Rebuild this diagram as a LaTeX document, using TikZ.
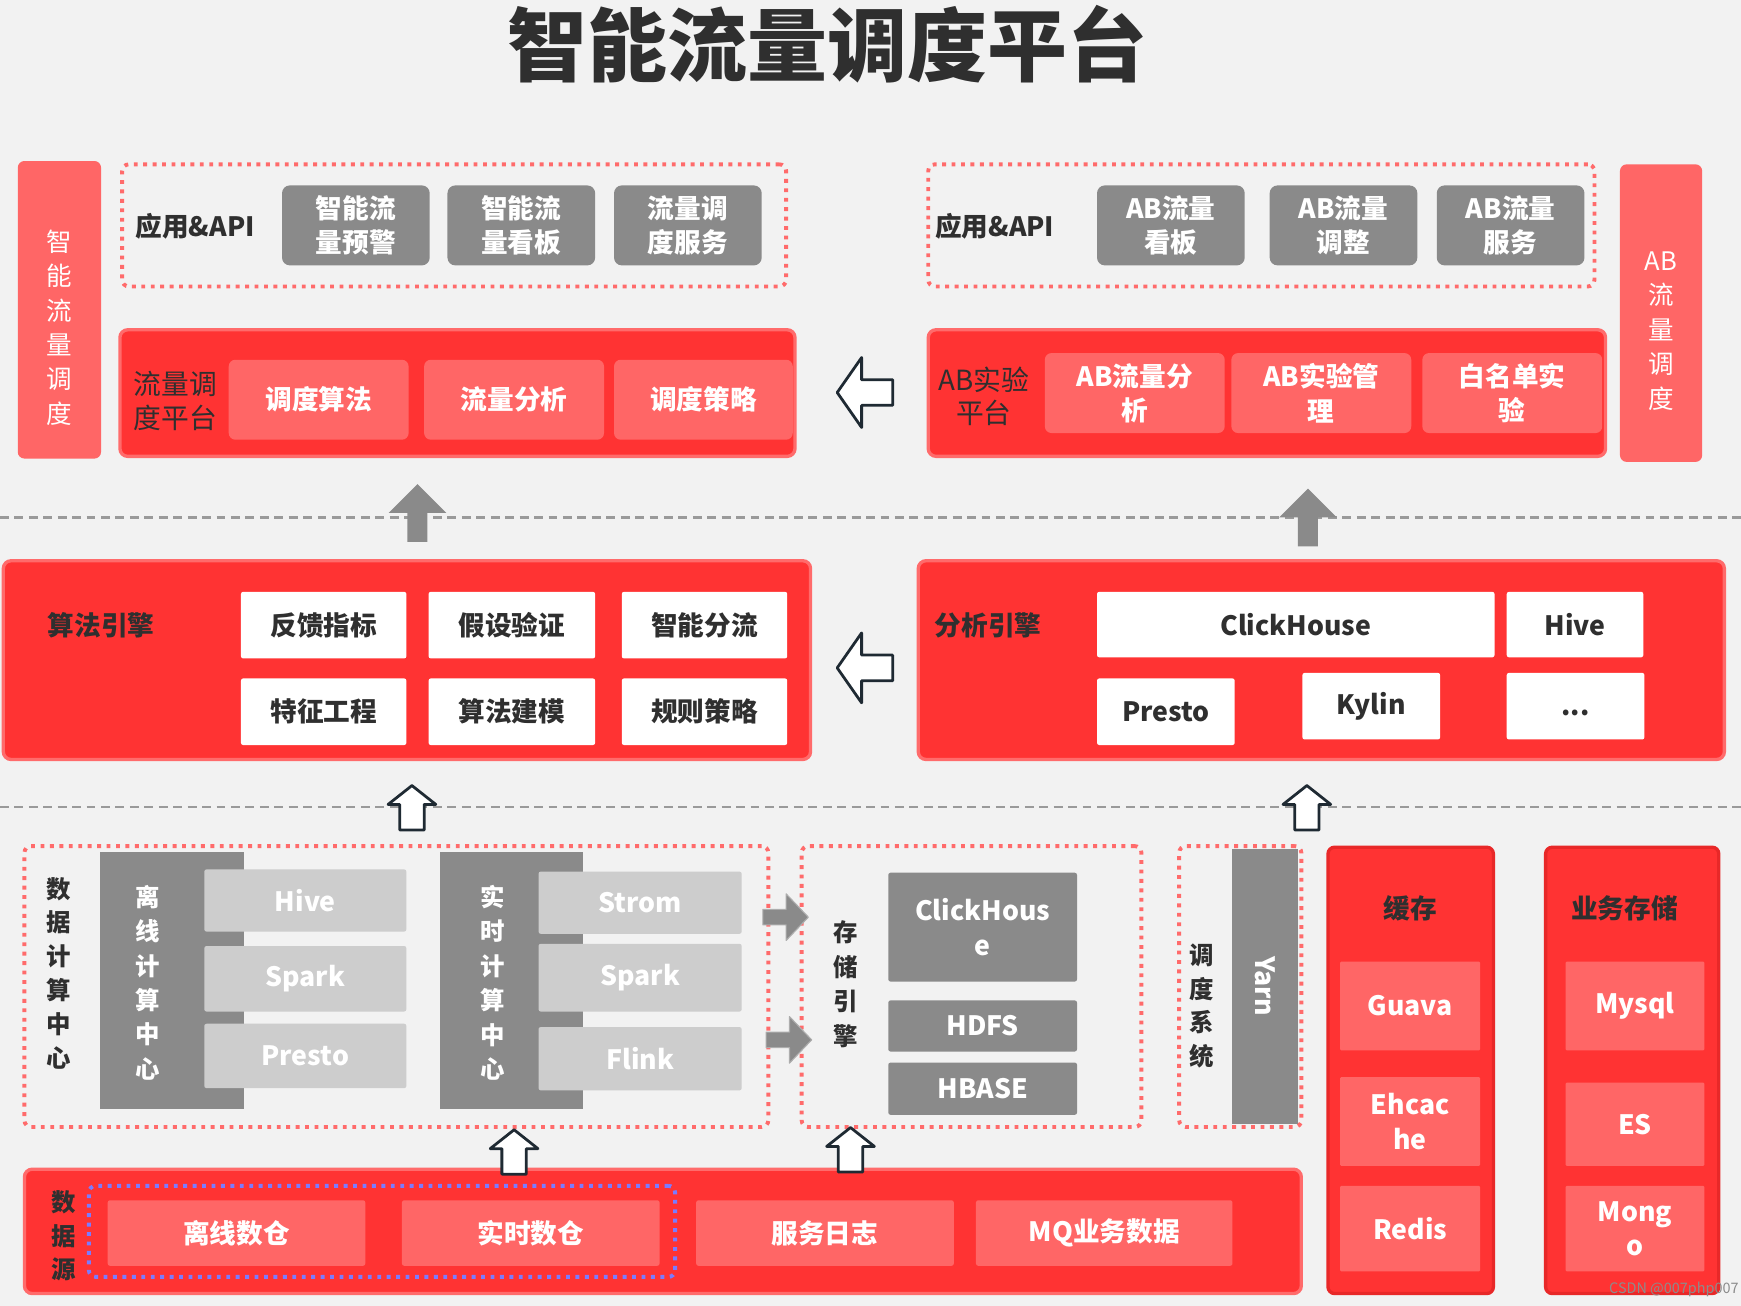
\documentclass[tikz,border=0pt]{standalone}
\usepackage{fontspec}
\setmainfont{Noto Sans CJK SC}
\definecolor{bgcol}{HTML}{F2F2F2}
\definecolor{redfill}{HTML}{FF3333}
\definecolor{redline}{HTML}{FF6B6B}
\definecolor{salmon}{HTML}{FF6666}
\definecolor{darkgray}{HTML}{8A8A8A}
\definecolor{lightgray}{HTML}{CDCDCD}
\definecolor{textdark}{HTML}{2F2F2F}
\definecolor{arrowline}{HTML}{1F2A33}
\definecolor{dotred}{HTML}{FF6B6B}
\definecolor{dotblue}{HTML}{7B7BFF}
\definecolor{boxred}{HTML}{E82828}
\definecolor{sepgray}{HTML}{9A9A9A}
\definecolor{markgray}{HTML}{8C8C8C}
\newcommand{\fsz}[2]{\fontsize{#1}{#2}\selectfont}
\tikzset{
  wh/.style 2 args={minimum width=#1pt, minimum height=#2pt},
  panel/.style={fill=redfill, draw=redline, line width=3pt, rounded corners=7pt, inner sep=0pt},
  storepanel/.style={fill=redfill, draw=boxred, line width=3pt, rounded corners=6pt, inner sep=0pt},
  dotbox/.style={draw=dotred, line width=3.5pt, dash pattern=on 3.5pt off 5pt, rounded corners=6pt, inner sep=0pt},
  blk/.style={inner sep=0pt, align=center, font=\bfseries\fsz{24}{31}},
  salbox/.style={blk, fill=salmon, text=white, rounded corners=6pt},
  graybox/.style={blk, fill=darkgray, text=white, rounded corners=7pt},
  whitebox/.style={blk, fill=white, text=textdark, rounded corners=2pt},
  lightbox/.style={blk, fill=lightgray, text=white, rounded corners=2pt},
  sidebar/.style={fill=salmon, rounded corners=6pt, inner sep=0pt},
  vtext/.style={align=center, inner sep=0pt, font=\fsz{23}{31}},
  tag/.style={text=textdark, inner sep=0pt, align=center, font=\bfseries\fsz{24}{30}},
  sepline/.style={draw=sepgray, line width=2pt, dash pattern=on 8pt off 5pt},
  outarrow/.style={fill=white, draw=arrowline, line width=2.5pt, line join=round},
  % 空心箭头（向左）
  leftarrow/.pic={\draw[outarrow] (25,-11.5) -- (-3,-11.5) -- (-3,-31.5) -- (-25,0) -- (-3,31.5) -- (-3,11.5) -- (25,11.5) -- cycle;},
  % 空心箭头（向上）
  uparrow/.pic={\draw[outarrow] (-11,20) -- (-11,-3) -- (-21.5,-3) -- (0,-20) -- (21.5,-3) -- (11,-3) -- (11,20) -- cycle;},
  % 灰色箭头（向上）
  grayup/.pic={\fill[darkgray] (-9,26) -- (-9,0) -- (-26,0) -- (0,-26) -- (26,0) -- (9,0) -- (9,26) -- cycle;},
  % 灰色箭头（向右）
  grayright/.pic={\filldraw[fill=darkgray, draw=darkgray!70, line width=1pt, line join=round] (-20.5,-7) -- (0.5,-7) -- (0.5,-21) -- (20.5,0) -- (0.5,21) -- (0.5,7) -- (-20.5,7) -- cycle;},
}

\begin{document}
\begin{tikzpicture}[x=1pt, y=-1pt]
  % 背景
  \fill[bgcol] (0,0) rectangle (1568,1176);
  \useasboundingbox (0,0) rectangle (1568,1176);
  % 标题
  \node[font=\bfseries\fsz{72}{80}, text=textdark, inner sep=0pt] (title) at (745,40) {智能流量调度平台};

  % 左右竖条
  \node[sidebar, wh={75}{268}] (leftbar) at (53.5,279) {};
  \node[vtext, text=white] (leftbartxt) at ([yshift=-16pt]leftbar.center) {智\\能\\流\\量\\调\\度};
  \node[sidebar, wh={74}{268}] (rightbar) at (1496,282) {};
  \node[vtext, text=white] (rightbartxt) at ([yshift=-16pt]rightbar.center) {AB\\流\\量\\调\\度};

  % 应用&API（左）
  \node[dotbox, wh={598}{110}] (appL) at (409,203) {};
  \node[tag, anchor=west] (appLtag) at (122,204) {应用\&API};
  \node[graybox, wh={133}{72}] (warn) at (320.5,203) {智能流\\量预警};
  \node[graybox, wh={133}{72}] (board) at (469.5,203) {智能流\\量看板};
  \node[graybox, wh={133}{72}] (service) at (619.5,203) {流量调\\度服务};

  % 应用&API（右）
  \node[dotbox, wh={600}{110}] (appR) at (1136,203) {};
  \node[tag, anchor=west] (appRtag) at (842,204) {应用\&API};
  \node[graybox, wh={133}{72}] (abboard) at (1054.5,203) {AB流量\\看板};
  \node[graybox, wh={133}{72}] (abadjust) at (1210,203) {AB流量\\调整};
  \node[graybox, wh={133}{72}] (abservice) at (1360.5,203) {AB流量\\服务};

  % 流量调度平台
  \node[panel, wh={608}{114}] (flowpanel) at (412,354) {};
  \node[tag, font=\fsz{25}{30}] (flowtag) at (158,361) {流量调\\度平台};
  \node[salbox, wh={162}{72}] (algo) at (287,360) {调度算法};
  \node[salbox, wh={162}{72}] (analysis) at (463,360) {流量分析};
  \node[salbox, wh={161}{72}] (strategy) at (633.5,360) {调度策略};

  % AB实验平台
  \node[panel, wh={610}{114}] (abpanel) at (1141,354) {};
  \node[tag, font=\fsz{25}{30}] (abtag) at (886,357) {AB实验\\平台};
  \node[salbox, wh={162}{72}] (abanalysis) at (1022,354) {AB流量分\\析};
  \node[salbox, wh={162}{72}] (abmanage) at (1190,354) {AB实验管\\理};
  \node[salbox, wh={162}{72}] (whitelist) at (1362,354) {白名单实\\验};

  % 分隔线
  \draw[sepline] (0,466) -- (1568,466);
  \draw[sepline] (0,727) -- (1568,727);

  % 算法引擎
  \node[panel, wh={727}{179}] (algopanel) at (366.5,594.5) {};
  \node[tag] (algotag) at (91,563) {算法引擎};
  \node[whitebox, wh={149}{60}] (feedback) at (291.5,563) {反馈指标};
  \node[whitebox, wh={150}{60}] (hypothesis) at (461,563) {假设验证};
  \node[whitebox, wh={149}{60}] (split) at (634.5,563) {智能分流};
  \node[whitebox, wh={149}{60}] (feature) at (291.5,641) {特征工程};
  \node[whitebox, wh={150}{60}] (modeling) at (461,641) {算法建模};
  \node[whitebox, wh={149}{60}] (rules) at (634.5,641) {规则策略};

  % 分析引擎
  \node[panel, wh={726}{179}] (anapanel) at (1190,594.5) {};
  \node[tag] (anatag) at (890,563) {分析引擎};
  \node[whitebox, wh={358}{59}] (clickhouse) at (1167,562.5) {ClickHouse};
  \node[whitebox, wh={123}{59}] (hive) at (1418.5,562.5) {Hive};
  \node[whitebox, wh={124}{60}] (presto) at (1050,641) {Presto};
  \node[whitebox, wh={124}{60}] (kylin) at (1235,636) {Kylin};
  \node[whitebox, wh={124}{60}] (more) at (1419,636) {};
  \node[text=textdark, font=\bfseries\fsz{24}{30}, inner sep=0pt] (moretxt) at ([yshift=-6pt]more.center) {...};

  % 数据计算中心
  \node[dotbox, wh={670}{253}] (compute) at (357,888.5) {};
  \node[vtext, text=textdark, font=\bfseries\fsz{22}{30.5}] (computetag) at (53,876.5) {数\\据\\计\\算\\中\\心};
  \node[fill=darkgray, wh={130}{232}, inner sep=0pt] (offline) at (155,883) {};
  \node[vtext, text=white, font=\bfseries\fsz{22}{31}] (offlinetxt) at (133,885) {离\\线\\计\\算\\中\\心};
  \node[lightbox, wh={182}{56}] (offhive) at (275,811) {Hive};
  \node[lightbox, wh={182}{59}] (offspark) at (275,881.5) {Spark};
  \node[lightbox, wh={182}{58}] (offpresto) at (275,951) {Presto};
  \node[fill=darkgray, wh={129}{232}, inner sep=0pt] (realtime) at (460.5,883) {};
  \node[vtext, text=white, font=\bfseries\fsz{22}{31}] (realtimetxt) at (444,885) {实\\时\\计\\算\\中\\心};
  \node[lightbox, wh={183}{56}] (strom) at (576.5,813) {Strom};
  \node[lightbox, wh={183}{61}] (rtspark) at (576.5,880.5) {Spark};
  \node[lightbox, wh={183}{57}] (flink) at (576.5,953.5) {Flink};

  % 存储引擎
  \node[dotbox, wh={306}{253}] (storage) at (875,888.5) {};
  \node[vtext, text=textdark, font=\bfseries\fsz{22}{31}] (storagetag) at (762,886.5) {存\\储\\引\\擎};
  \node[graybox, rounded corners=2pt, wh={170}{98}] (stclick) at (885,835) {ClickHous\\e};
  \node[graybox, rounded corners=2pt, wh={170}{46}] (hdfs) at (885,924) {HDFS};
  \node[graybox, rounded corners=2pt, wh={170}{47}] (hbase) at (885,980.5) {HBASE};

  % 调度系统
  \node[dotbox, wh={110}{253}] (sched) at (1117,888.5) {};
  \node[vtext, text=textdark, font=\bfseries\fsz{22}{30.5}] (schedtag) at (1082,906) {调\\度\\系\\统};
  \node[fill=darkgray, wh={59}{247}, inner sep=0pt] (yarnbar) at (1139.5,888.5) {};
  \node[rotate=-90, text=white, font=\bfseries\fsz{24}{30}, inner sep=0pt] (yarn) at (yarnbar.center) {Yarn};

  % 缓存
  \node[storepanel, wh={149}{402}] (cache) at (1270.5,964) {};
  \node[tag] (cachetag) at (1270,818) {缓存};
  \node[salbox, rounded corners=1pt, wh={126}{80}] (guava) at (1270,906) {Guava};
  \node[salbox, rounded corners=1pt, wh={126}{80}] (ehcache) at (1270,1010) {Ehcac\\he};
  \node[salbox, rounded corners=1pt, wh={126}{77}] (redis) at (1270,1106.5) {Redis};

  % 业务存储
  \node[storepanel, wh={156}{402}] (bizstore) at (1470,964) {};
  \node[tag] (biztag) at (1463,818) {业务存储};
  \node[salbox, rounded corners=1pt, wh={125}{80}] (mysql) at (1472.5,906) {Mysql};
  \node[salbox, rounded corners=1pt, wh={125}{75}] (es) at (1472.5,1012.5) {ES};
  \node[salbox, rounded corners=1pt, wh={125}{77}] (mongo) at (1472.5,1106.5) {Mong\\o};

  % 数据源
  \node[panel, wh={1150}{112}] (source) at (597,1109) {};
  \node[vtext, text=textdark, font=\bfseries\fsz{22}{30}] (sourcetag) at (57,1113) {数\\据\\源};
  \node[dotbox, draw=dotblue, wh={528}{82}] (warehouse) at (344,1109) {};
  \node[salbox, rounded corners=2pt, wh={232}{59}] (offdw) at (213,1110.5) {离线数仓};
  \node[salbox, rounded corners=2pt, wh={232}{59}] (rtdw) at (478,1110.5) {实时数仓};
  \node[salbox, rounded corners=2pt, wh={232}{59}] (logs) at (743,1110.5) {服务日志};
  \node[salbox, rounded corners=2pt, wh={231}{59}] (mq) at (994.5,1110.5) {MQ业务数据};

  % 箭头
  \pic at (779,353.5) {leftarrow};
  \pic at (779,601.5) {leftarrow};
  \pic at (376,462) {grayup};
  \pic at (1178,466) {grayup};
  \pic at (371,727.5) {uparrow};
  \pic at (1177,727.5) {uparrow};
  \pic at (707.5,826) {grayright};
  \pic at (710.5,936.5) {grayright};
  \pic at (463,1037.5) {uparrow};
  \pic at (766,1035.5) {uparrow};

  % 水印
  \node[anchor=east, font=\fsz{13}{15}, text=markgray, inner sep=0pt] (mark) at (1566,1161) {CSDN @007php007};
\end{tikzpicture}
\end{document}
